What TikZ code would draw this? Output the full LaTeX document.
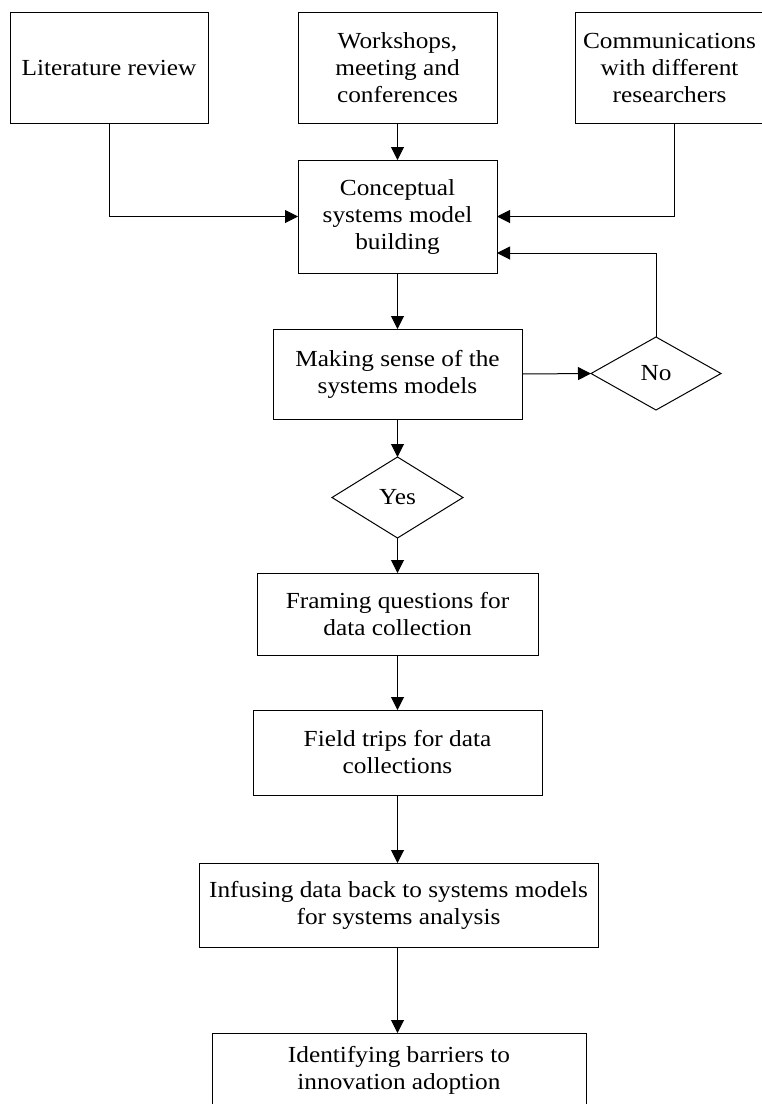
\documentclass[tikz,border=0pt]{standalone}
\usepackage{fontspec}
\setmainfont{Liberation Serif}[FakeStretch=1.1]
\usetikzlibrary{shapes.geometric,arrows.meta}
\tikzset{
  x=1pt,y=-1pt,
  box/.style={draw,rectangle,inner sep=0pt,outer sep=0pt,align=center,line width=1pt,
    font=\fontsize{23pt}{27pt}\selectfont},
  dia/.style={draw,diamond,inner sep=0pt,outer sep=0pt,line width=1pt,
    font=\fontsize{23pt}{27pt}\selectfont},
  arr/.style={line width=1pt,-{Triangle[length=13pt,width=13pt]}},
  ln/.style={line width=1pt}
}
\begin{document}
\begin{tikzpicture}
\clip (0,0) rectangle (762,1104);
\fill[white] (0,0) rectangle (762,1104);
\node[box,minimum width=198pt,minimum height=111pt] (lit) at (109,67.5) {Literature review};
\node[box,minimum width=199pt,minimum height=111pt] (work) at (397.5,67.5) {Workshops,\\meeting and\\conferences};
\node[box,minimum width=189pt,minimum height=111pt] (comm) at (669.5,67.5) {Communications\\with different\\researchers};
\node[box,minimum width=199pt,minimum height=113pt] (conc) at (397.5,216.5) {Conceptual\\systems model\\building};
\node[box,minimum width=249pt,minimum height=90pt] (mak) at (397.5,374) {Making sense of the\\systems models};
\node[dia,minimum width=130pt,minimum height=73pt] (no) at (656,373.5) {No};
\node[dia,minimum width=131pt,minimum height=81pt] (yes) at (397.5,497.5) {Yes};
\node[box,minimum width=281pt,minimum height=82pt] (fram) at (397.5,614) {Framing questions for\\data collection};
\node[box,minimum width=289pt,minimum height=85pt] (field) at (397.5,752.5) {Field trips for data\\collections};
\node[box,minimum width=399pt,minimum height=84pt] (inf) at (398.5,905) {Infusing data back to systems models\\for systems analysis};
\node[box,minimum width=374pt,minimum height=74pt] (ident) at (399,1070) {Identifying barriers to\\innovation adoption};
\draw[arr] (lit.south) |- (conc.west);
\draw[arr] (work.south) -- (conc.north);
\draw[arr] ([xshift=4.5pt]comm.south) |- (conc.east);
\draw[arr] (conc.south) -- (mak.north);
\draw[arr] (mak.east) -- (no.west);
\draw[arr] (no.north) |- ([yshift=-36.5pt]conc.east);
\draw[arr] (mak.south) -- (yes.north);
\draw[arr] (yes.south) -- (fram.north);
\draw[arr] (fram.south) -- (field.north);
\draw[arr] (field.south) -- (inf.north -| field.south);
\draw[arr] (inf.south -| field.south) -- (ident.north -| field.south);
\end{tikzpicture}
\end{document}
